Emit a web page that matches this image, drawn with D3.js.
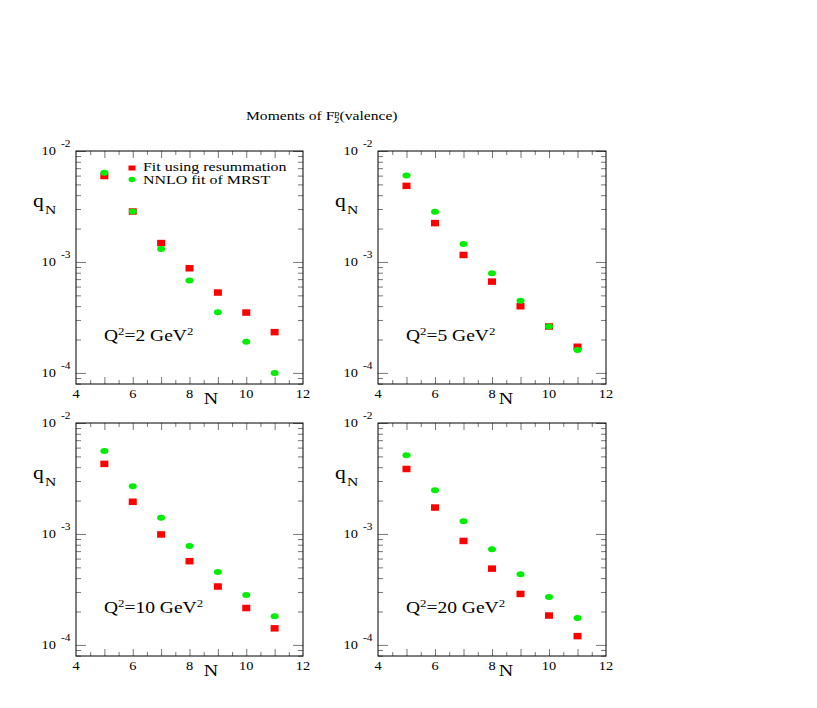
<!DOCTYPE html>
<html><head><meta charset="utf-8">
<script src="https://cdn.jsdelivr.net/npm/d3@7"></script>
<style>body{margin:0;background:#fff}svg{display:block}</style>
</head><body>
<script>
// ---- data ----
const N = [5, 6, 7, 8, 9, 10, 11];
const q2Labels = ["2", "5", "10", "20"];
const resumQ2_2  = [5.95e-3, 2.85e-3, 1.48e-3, 8.77e-4, 5.30e-4, 3.50e-4, 2.33e-4];
const mrstQ2_2   = [6.38e-3, 2.85e-3, 1.31e-3, 6.79e-4, 3.52e-4, 1.91e-4, 1.00e-4];
const resumQ2_5  = [4.85e-3, 2.24e-3, 1.156e-3, 6.65e-4, 3.99e-4, 2.62e-4, 1.72e-4];
const mrstQ2_5   = [6.00e-3, 2.83e-3, 1.45e-3, 7.90e-4, 4.46e-4, 2.62e-4, 1.61e-4];
const resumQ2_10 = [4.28e-3, 1.95e-3, 9.90e-4, 5.68e-4, 3.36e-4, 2.15e-4, 1.41e-4];
const mrstQ2_10  = [5.60e-3, 2.69e-3, 1.40e-3, 7.80e-4, 4.55e-4, 2.82e-4, 1.81e-4];
const resumQ2_20 = [3.85e-3, 1.73e-3, 8.65e-4, 4.87e-4, 2.88e-4, 1.84e-4, 1.20e-4];
const mrstQ2_20  = [5.12e-3, 2.48e-3, 1.30e-3, 7.28e-4, 4.33e-4, 2.70e-4, 1.75e-4];
const xTickLabels = [4, 6, 8, 10, 12];
const yDecades = [-2, -3, -4];
const legendLabels = ["Fit using resummation", "NNLO fit of MRST"];
const titleText = ["Moments of F", "2", "p", "(valence)"];

const panels = [
  {q2: q2Labels[0], resum: resumQ2_2,  mrst: mrstQ2_2,  legend: true},
  {q2: q2Labels[1], resum: resumQ2_5,  mrst: mrstQ2_5},
  {q2: q2Labels[2], resum: resumQ2_10, mrst: mrstQ2_10},
  {q2: q2Labels[3], resum: resumQ2_20, mrst: mrstQ2_20}
];

const W = 817, H = 708;
const FONT = "Liberation Serif, Times New Roman, serif";
const RED = "#ff0000", GREEN = "#00ee00", TICK = "#777";
const SX = 1.2;

const svg = d3.select("body").append("svg").attr("width", W).attr("height", H);

function stext(g, x, y, size, sx, anchor) {
  return g.append("text")
    .attr("transform", `translate(${x},${y}) scale(${sx},1)`)
    .style("font-family", FONT).attr("font-size", size)
    .attr("text-anchor", anchor || "start").attr("fill", "#000");
}

// title
{
  const t = stext(svg, 246, 120, 12, 1.3);
  t.append("tspan").text(titleText[0]);
  t.append("tspan").attr("font-size", 8).attr("dy", 2.5).text(titleText[1]);
  t.append("tspan").attr("font-size", 8).attr("dx", -4).attr("dy", -7).text(titleText[2]);
  t.append("tspan").attr("dy", 4.5).text(titleText[3]);
}

const frames = [
  {x0: 76,  x1: 303, y0: 151, y1: 384, nOff: 135},
  {x0: 378, x1: 606, y0: 151, y1: 384, nOff: 128},
  {x0: 76,  x1: 303, y0: 423, y1: 656, nOff: 135},
  {x0: 378, x1: 606, y0: 423, y1: 656, nOff: 128}
];

panels.forEach((p, i) => {
  const f = frames[i];
  const g = svg.append("g");
  const x = d3.scaleLinear().domain([4, 12]).range([f.x0, f.x1]);
  const y = d3.scaleLog().domain([Math.pow(10, -4.1), 1e-2]).range([f.y1, f.y0]);

  const xMinor = d3.range(4.5, 12, 1);
  const xMajor = d3.range(5, 12, 1);
  const yMajor = yDecades.map(d => Math.pow(10, d));
  const yMinor = [];
  [-5, -4, -3].forEach(d => { for (let k = 2; k <= 9; k++) { const v = k * Math.pow(10, d); if (v >= y.domain()[0] && v <= 1e-2) yMinor.push(v); } });

  function styleAxis(a) { a.select(".domain").remove(); a.selectAll("line").attr("stroke", TICK); }
  styleAxis(g.append("g").attr("transform", `translate(0,${f.y1})`).call(d3.axisBottom(x).tickValues(xMinor).tickSize(-4).tickFormat("")));
  styleAxis(g.append("g").attr("transform", `translate(0,${f.y1})`).call(d3.axisBottom(x).tickValues(xMajor).tickSize(-7).tickFormat("")));
  styleAxis(g.append("g").attr("transform", `translate(0,${f.y0})`).call(d3.axisTop(x).tickValues(xMinor).tickSize(-4).tickFormat("")));
  styleAxis(g.append("g").attr("transform", `translate(0,${f.y0})`).call(d3.axisTop(x).tickValues(xMajor).tickSize(-7).tickFormat("")));
  styleAxis(g.append("g").attr("transform", `translate(${f.x0},0)`).call(d3.axisLeft(y).tickValues(yMinor).tickSize(-5).tickFormat("")));
  styleAxis(g.append("g").attr("transform", `translate(${f.x0},0)`).call(d3.axisLeft(y).tickValues(yMajor).tickSize(-10).tickFormat("")));
  styleAxis(g.append("g").attr("transform", `translate(${f.x1},0)`).call(d3.axisRight(y).tickValues(yMinor).tickSize(-5).tickFormat("")));
  styleAxis(g.append("g").attr("transform", `translate(${f.x1},0)`).call(d3.axisRight(y).tickValues(yMajor).tickSize(-10).tickFormat("")));

  g.append("rect").attr("x", f.x0).attr("y", f.y0).attr("width", f.x1 - f.x0).attr("height", f.y1 - f.y0)
    .attr("fill", "none").attr("stroke", "#000").attr("stroke-width", 1);

  xTickLabels.forEach(v => { stext(g, x(v), f.y1 + 13.5, 12, SX, "middle").text(v); });
  yDecades.forEach(d => {
    const yy = y(Math.pow(10, d));
    stext(g, f.x0 - 20, yy + 4, 12, SX, "end").text("10");
    stext(g, f.x0 - 15, yy - 4, 9.5, SX, "start").text(String(d));
  });
  stext(g, f.x0 + f.nOff, f.y1 + 20, 16, 1.25, "middle").text("N");
  stext(g, f.x0 - 43, f.y0 + 56, 18, 1.2, "start").text("q");
  stext(g, f.x0 - 31, f.y0 + 63, 13, 1.2, "start").text("N");

  {
    const t = stext(g, f.x0 + 28, f.y0 + 190, 16, 1.22, "start");
    t.append("tspan").text("Q");
    t.append("tspan").attr("font-size", 10.5).attr("dy", -6.5).text("2");
    t.append("tspan").attr("dy", 6.5).text("=" + p.q2 + " GeV");
    t.append("tspan").attr("font-size", 10.5).attr("dy", -6.5).text("2");
  }

  const rows = N.map((n, j) => ({n, r: p.resum[j], m: p.mrst[j]}));
  g.selectAll("rect.res").data(rows).join("rect").attr("class", "res")
    .attr("x", d => x(d.n) - 4).attr("y", d => y(d.r) - 3.25).attr("width", 8).attr("height", 6.5).attr("fill", RED);
  g.selectAll("ellipse.mr").data(rows).join("ellipse").attr("class", "mr")
    .attr("cx", d => x(d.n)).attr("cy", d => y(d.m)).attr("rx", 4).attr("ry", 3).attr("fill", GREEN);

  if (p.legend) {
    g.append("rect").attr("x", 128.5).attr("y", 165.5).attr("width", 7).attr("height", 5).attr("fill", RED);
    g.append("ellipse").attr("cx", 132).attr("cy", 179.5).attr("rx", 3.5).attr("ry", 2.7).attr("fill", GREEN);
    stext(g, 143, 171, 12, 1.33).text(legendLabels[0]);
    stext(g, 143, 184, 12, 1.33).text(legendLabels[1]);
  }
});
</script>
</body></html>
